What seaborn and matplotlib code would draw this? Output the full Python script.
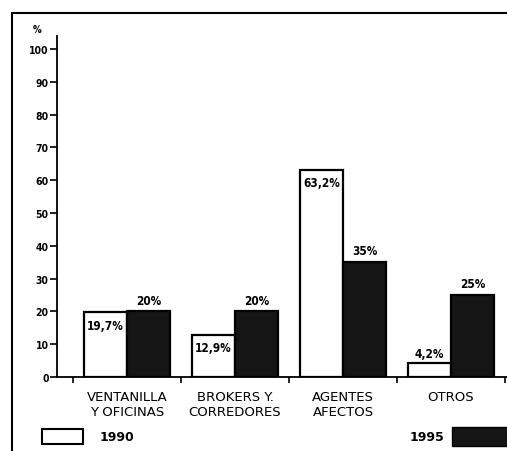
import pandas as pd
import matplotlib
matplotlib.use("Agg")
import matplotlib.pyplot as plt
from matplotlib.lines import Line2D
from matplotlib.patches import Rectangle
import seaborn as sns

# canales de venta, % de primas
canales = ["VENTANILLA\nY OFICINAS", "BROKERS Y.\nCORREDORES", "AGENTES\nAFECTOS", "OTROS"]
anios = ["1990", "1995"]
pct_1990 = [19.7, 12.9, 63.2, 4.2]
pct_1995 = [20, 20, 35, 25]
etiq_1990 = ["19,7%", "12,9%", "63,2%", "4,2%"]
etiq_1995 = ["20%", "20%", "35%", "25%"]
yticks = list(range(0, 101, 10))

df = pd.DataFrame({
    "canal": canales * 2,
    "pct": pct_1990 + pct_1995,
    "anio": [anios[0]] * 4 + [anios[1]] * 4,
})

sns.set_style("white")
plt.rcParams["font.family"] = ["DejaVu Sans"]
plt.rcParams["font.stretch"] = "condensed"
plt.rcParams["text.color"] = "black"
plt.rcParams["xtick.color"] = "black"
plt.rcParams["ytick.color"] = "black"

fig = plt.figure(figsize=(5.07, 4.52), dpi=100)
ax = fig.add_axes([57 / 507, 1 - 378 / 452, 1 - 57 / 507, (378 - 37) / 452])

sns.barplot(data=df, x="canal", y="pct", hue="anio", palette=["white", "#151515"],
            edgecolor="black", linewidth=1.6, width=0.8, gap=0, legend=False, ax=ax)

ax.set_ylim(0, 104)
ax.set_xlim(-0.65, 3.52)
ax.set_yticks(yticks)
ax.set_yticklabels([str(t) for t in yticks], fontsize=7.5, fontweight="bold")
ax.set_xticks([-0.5, 0.5, 1.5, 2.5, 3.5])
ax.set_xticklabels([])
ax.tick_params(axis="y", direction="out", length=5, width=1.2, left=True, pad=1)
ax.tick_params(axis="x", direction="out", length=4, width=1.2, bottom=True)
ax.set_xlabel("")
ax.set_ylabel("")
sns.despine(ax=ax, top=True, right=True)
for s in ["left", "bottom"]:
    ax.spines[s].set_linewidth(1.3)
    ax.spines[s].set_color("black")

# nombres de categoria bajo el eje
for i, c in enumerate(canales):
    ax.text(i, -4, c, ha="center", va="top", fontsize=9.5, linespacing=1.15,
            fontstretch="normal", fontweight="medium")

# etiquetas de valor
for bar, txt in zip(ax.containers[0], etiq_1990):
    xc = bar.get_x() + bar.get_width() / 2
    h = bar.get_height()
    if h > 10:
        ax.text(xc, h - 2, txt, ha="center", va="top", fontsize=8.5, fontweight="bold")
    else:
        ax.text(xc, h + 1, txt, ha="center", va="bottom", fontsize=8.5, fontweight="bold")
for bar, txt in zip(ax.containers[1], etiq_1995):
    xc = bar.get_x() + bar.get_width() / 2
    ax.text(xc, bar.get_height() + 1.5, txt, ha="center", va="bottom", fontsize=8.5,
            fontweight="bold")

fig.text(37 / 507, 1 - 30 / 452, "%", fontsize=7, ha="center", va="center", fontweight="bold")

# marco del grafico
fig.add_artist(Line2D([12 / 507, 1], [1 - 14 / 452, 1 - 14 / 452], color="black", lw=1.5))
fig.add_artist(Line2D([12 / 507, 12 / 507], [1 - 14 / 452, 0], color="black", lw=1.5))

# leyenda
fig.add_artist(Rectangle((42 / 507, 1 - 445 / 452), 41 / 507, 15 / 452,
                         facecolor="white", edgecolor="black", lw=1.5))
fig.text(100 / 507, 1 - 438 / 452, anios[0], fontsize=9, va="center", fontweight="bold",
         fontstretch="normal")
fig.text(410 / 507, 1 - 438 / 452, anios[1], fontsize=9, va="center", fontweight="bold",
         fontstretch="normal")
fig.add_artist(Rectangle((452 / 507, 1 - 447 / 452), 60 / 507, 19 / 452,
                         facecolor="#151515", edgecolor="black", lw=1))

fig.savefig("out.png", dpi=100)
